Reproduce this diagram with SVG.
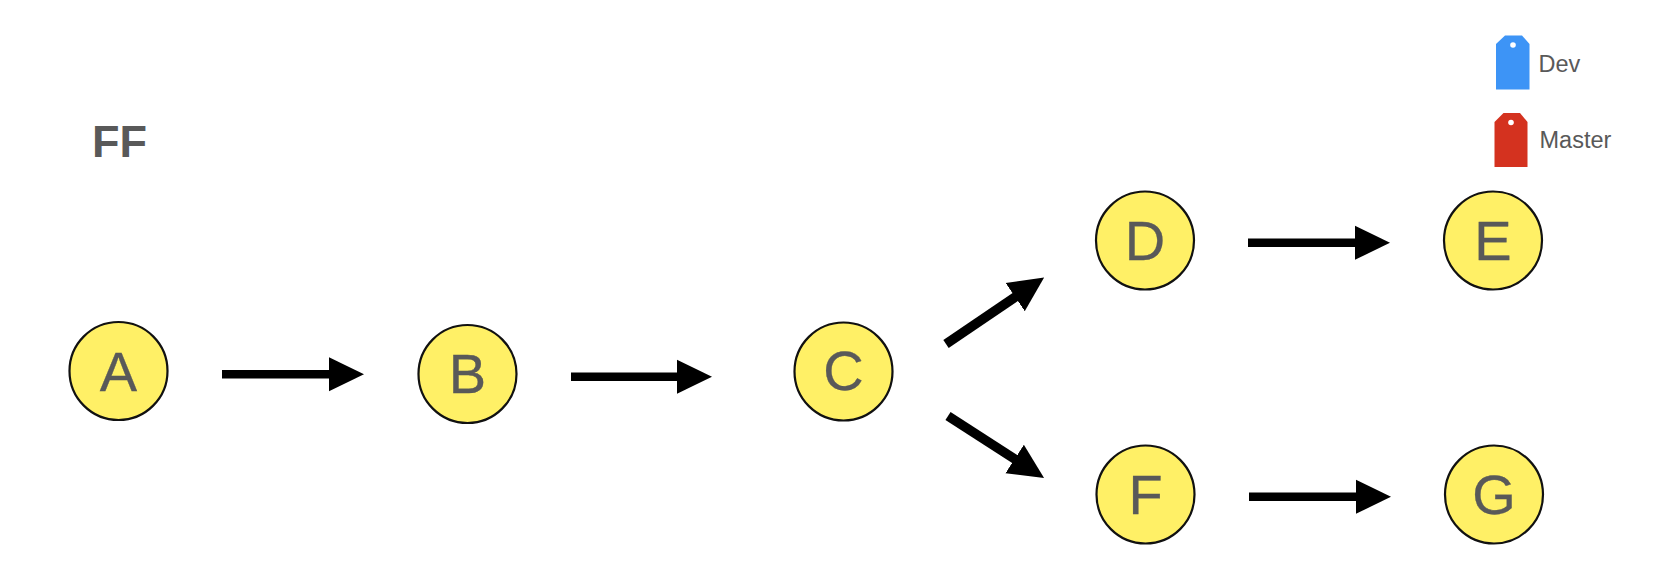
<svg xmlns="http://www.w3.org/2000/svg" width="1680" height="584" viewBox="0 0 1680 584">
<style>
text { font-family: "Liberation Sans", Arial, sans-serif; fill: #595959; }
.n circle { fill: #FFF066; stroke: #111; stroke-width: 2.2; }
.n text { font-size: 56px; text-anchor: middle; stroke: #595959; stroke-width: 0.3; }
.c line { stroke: #000; stroke-width: 8.500; marker-end: url(#h); }
.c line.d { stroke-width: 9.500; }
.lbl { font-size: 23.500px; }
.hole { fill: #fff; }
</style>
<defs>
<marker id="h" markerUnits="userSpaceOnUse" markerWidth="37" markerHeight="36" refX="1" refY="18" orient="auto" viewBox="0 0 37 36">
<path d="M0 1L35 18L0 35Z" fill="#000"/>
</marker>
</defs>
<rect width="1680" height="584" fill="#fff"/>
<g id="connectors" class="c">
<line x1="222" y1="374.300" x2="330" y2="374.300"/>
<line x1="571" y1="376.800" x2="678" y2="376.800"/>
<line class="d" x1="946" y1="344" x2="1016" y2="296.500"/>
<line class="d" x1="948" y1="416" x2="1015.500" y2="459.500"/>
<line x1="1248" y1="242.800" x2="1356" y2="242.800"/>
<line x1="1249" y1="496.800" x2="1357" y2="496.800"/>
</g>
<g id="A" class="n"><circle cx="118.500" cy="371" r="49"/><text x="118.500" y="391">A</text></g>
<g id="B" class="n"><circle cx="467.500" cy="374" r="49"/><text x="467.500" y="392.500">B</text></g>
<g id="C" class="n"><circle cx="843.500" cy="371.500" r="49"/><text x="843.500" y="390">C</text></g>
<g id="D" class="n"><circle cx="1145" cy="240.500" r="49"/><text x="1145" y="259.500">D</text></g>
<g id="E" class="n"><circle cx="1493" cy="240.500" r="49"/><text x="1493" y="259.500">E</text></g>
<g id="F" class="n"><circle cx="1145.500" cy="494.500" r="49"/><text x="1145.500" y="513.500">F</text></g>
<g id="G" class="n"><circle cx="1494" cy="494.500" r="49"/><text x="1494" y="513.500">G</text></g>
<g id="title"><text x="92" y="157" font-size="45" font-weight="700">FF</text></g>
<g id="dev-tag">
<path d="M1496 44L1505 35.500H1522L1529.500 44V89.500H1496Z" fill="#3D94F6"/>
<circle class="hole" cx="1513" cy="45" r="2.800"/>
<text class="lbl" x="1538.500" y="71.500">Dev</text>
</g>
<g id="master-tag">
<path d="M1494.500 122L1503.500 113H1520L1527.500 122V167H1494.500Z" fill="#D4321F"/>
<circle class="hole" cx="1511" cy="122.500" r="2.800"/>
<text class="lbl" x="1539.500" y="148">Master</text>
</g>
</svg>
